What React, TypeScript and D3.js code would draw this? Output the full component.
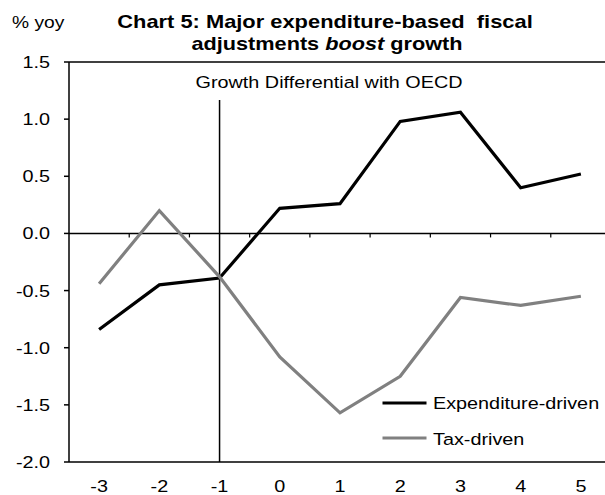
import React from "react";
import * as d3 from "d3";

const categories = ["-3", "-2", "-1", "0", "1", "2", "3", "4", "5"];
const expenditureDriven = [-0.84, -0.45, -0.39, 0.22, 0.26, 0.98, 1.06, 0.4, 0.52];
const taxDriven = [-0.44, 0.2, -0.38, -1.08, -1.57, -1.25, -0.56, -0.63, -0.55];
const yTicks = [1.5, 1.0, 0.5, 0.0, -0.5, -1.0, -1.5, -2.0];
const seriesNames = ["Expenditure-driven", "Tax-driven"];
const seriesColors = ["#000000", "#808080"];

const W = 605;
const H = 495;
const left = 69;
const right = 611;
const top = 62;
const bottom = 462;
const SX = 1.2;
const FONT = "'Liberation Sans', Arial, sans-serif";

function T({ x, y, anchor = "start", size = 16.5, sx = SX, weight = "normal", children }: any) {
  return (
    <text
      transform={`translate(${x},${y}) scale(${sx},1)`}
      textAnchor={anchor}
      fontSize={size}
      fontWeight={weight}
      fontFamily={FONT}
      fill="#000"
      style={{ whiteSpace: "pre" }}
    >
      {children}
    </text>
  );
}

export default function App() {
  const x = d3.scaleBand<string>().domain(categories).range([left, right]).padding(0);
  const y = d3.scaleLinear().domain([-2, 1.5]).range([bottom, top]);
  const cx = (c: string) => (x(c) as number) + x.bandwidth() / 2;
  const line = d3
    .line<number>()
    .x((_, i) => cx(categories[i]))
    .y((d) => y(d));
  const series = [expenditureDriven, taxDriven];
  const y0 = y(0);
  const boundaries = categories.slice(1).map((c) => x(c) as number);

  return (
    <svg width={W} height={H} style={{ position: "absolute", left: 0, top: 0 }}>
      <rect width={W} height={H} fill="#fff" />
      <T x={12} y={28} size={16}>% yoy</T>
      <T x={325} y={28} anchor="middle" size={17.5} sx={1.25} weight="bold">
        Chart 5: Major expenditure-based  fiscal
      </T>
      <text
        transform={`translate(327,50) scale(1.24,1)`}
        textAnchor="middle"
        fontSize={17.5}
        fontWeight="bold"
        fontFamily={FONT}
        style={{ whiteSpace: "pre" }}
      >
        adjustments <tspan fontStyle="italic">boost</tspan> growth
      </text>

      {/* frame */}
      <line x1={left} x2={W} y1={top} y2={top} stroke="#000" strokeWidth={1.5} />
      <line x1={left} x2={W} y1={bottom} y2={bottom} stroke="#000" strokeWidth={1.5} />
      <line x1={left} x2={left} y1={top} y2={bottom} stroke="#000" strokeWidth={1.5} />

      {/* y ticks */}
      {yTicks.map((t) => (
        <g key={t}>
          <line x1={left - 5} x2={left} y1={y(t)} y2={y(t)} stroke="#000" strokeWidth={1.5} />
          <T x={50} y={y(t) + 6} anchor="end">{t.toFixed(1)}</T>
        </g>
      ))}

      {/* zero axis with boundary ticks */}
      <line x1={left} x2={W} y1={y0} y2={y0} stroke="#000" strokeWidth={1.5} />
      {boundaries.map((b, i) => (
        <line key={i} x1={b} x2={b} y1={y0} y2={y0 + 4} stroke="#000" strokeWidth={1.2} />
      ))}

      {/* vertical marker at -1 */}
      <line x1={cx("-1")} x2={cx("-1")} y1={100} y2={bottom} stroke="#000" strokeWidth={1.5} />

      <T x={329} y={88} anchor="middle">Growth Differential with OECD</T>

      {/* x labels */}
      {categories.map((c) => (
        <T key={c} x={cx(c)} y={492} anchor="middle">{c}</T>
      ))}

      {/* series */}
      {series.map((s, i) => (
        <path key={i} d={line(s) || ""} fill="none" stroke={seriesColors[i]} strokeWidth={3.2} strokeLinejoin="miter" />
      ))}

      {/* legend */}
      {seriesNames.map((n, i) => (
        <g key={n}>
          <line x1={382.5} x2={426.5} y1={403 + i * 35} y2={403 + i * 35} stroke={seriesColors[i]} strokeWidth={3.2} />
          <T x={433} y={409 + i * 36}>{n}</T>
        </g>
      ))}
    </svg>
  );
}
